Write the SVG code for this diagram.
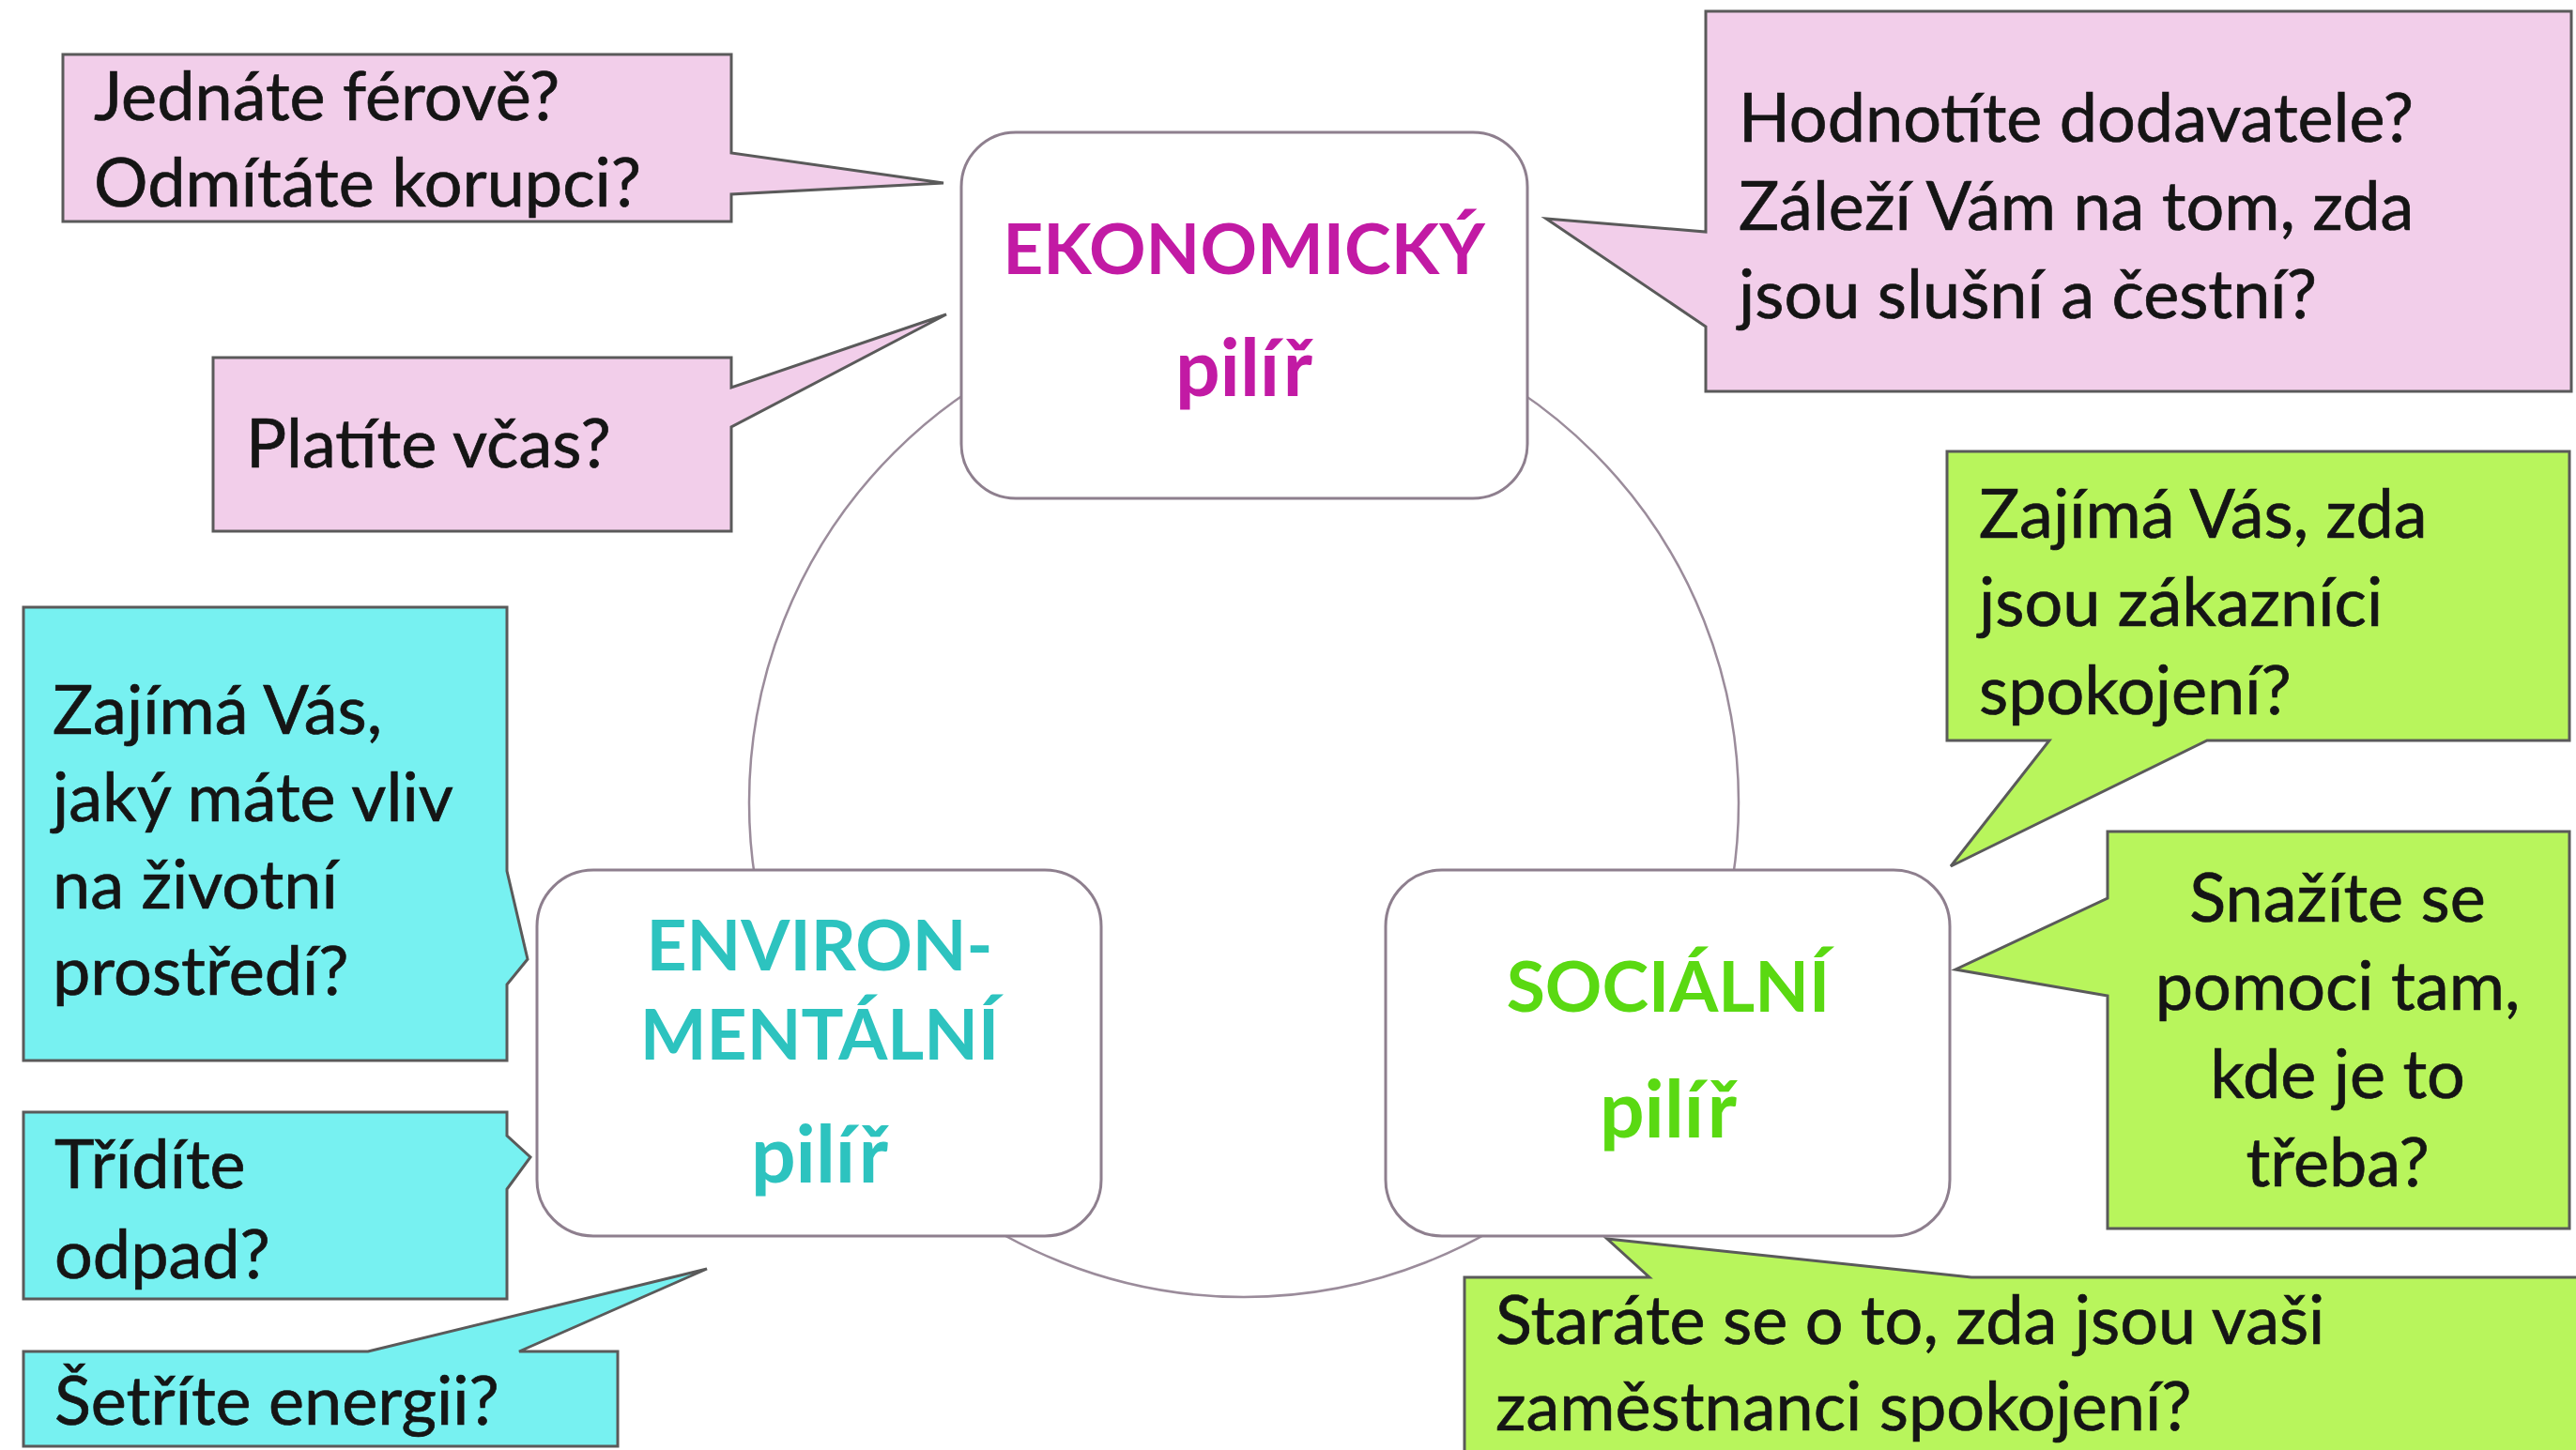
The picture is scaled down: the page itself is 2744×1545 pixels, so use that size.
<svg xmlns="http://www.w3.org/2000/svg" width="2744" height="1545" viewBox="0 0 2744 1545">
<style>
.bg{fill:#ffffff}
.pink{fill:#F2CEEA;stroke:#5a5a5a;stroke-width:3;stroke-linejoin:miter}
.cyan{fill:#77F1F1;stroke:#5a5a5a;stroke-width:3;stroke-linejoin:miter}
.green{fill:#B8F55C;stroke:#5a5a5a;stroke-width:3;stroke-linejoin:miter}
.node{fill:#ffffff;stroke:#8E7F8E;stroke-width:3}
.ring{fill:none;stroke:#9B8C9B;stroke-width:2.5}
.q{font-family:Lato,"Open Sans","Liberation Sans",sans-serif;font-size:72px;fill:#151515;stroke:#151515;stroke-width:0.7}
.qc{text-anchor:middle}
.t{font-family:Lato,"Open Sans","Liberation Sans",sans-serif;font-size:75px;font-weight:bold;text-anchor:middle}
.p{font-size:84px}
.eko{fill:#C21AA4}
.env{fill:#2DC3BF}
.soc{fill:#5AD912}
</style>
<rect class="bg" x="0" y="0" width="2744" height="1545"/>
<g id="connectors">
  <circle class="ring" cx="1325" cy="855" r="527"/>
</g>
<g id="q-ferove">
  <path class="pink" d="M67,58 H779 V163 L1005,195 L779,207 V236 H67 Z"/>
  <text class="q" x="100" y="128">Jednáte férově?</text>
  <text class="q" x="100" y="220">Odmítáte korupci?</text>
</g>
<g id="q-vcas">
  <path class="pink" d="M227,381 H779 V413 L1008,335 L779,455 V566 H227 Z"/>
  <text class="q" x="262" y="498">Platíte včas?</text>
</g>
<g id="q-dodavatele">
  <path class="pink" d="M1817,12 H2739 V417 H1817 V348 L1647,233 L1817,247 Z"/>
  <text class="q" x="1852" y="151">Hodnotíte dodavatele?</text>
  <text class="q" x="1852" y="245">Záleží Vám na tom, zda</text>
  <text class="q" x="1852" y="339">jsou slušní a čestní?</text>
</g>
<g id="q-vliv">
  <path class="cyan" d="M25,647 H540 V928 L562,1022 L540,1049 V1130 H25 Z"/>
  <text class="q" x="56" y="782">Zajímá Vás,</text>
  <text class="q" x="56" y="875">jaký máte vliv</text>
  <text class="q" x="56" y="968">na životní</text>
  <text class="q" x="56" y="1060">prostředí?</text>
</g>
<g id="q-odpad">
  <path class="cyan" d="M25,1185 H540 V1210 L565,1233 L540,1267 V1384 H25 Z"/>
  <text class="q" x="58" y="1266">Třídíte</text>
  <text class="q" x="58" y="1362">odpad?</text>
</g>
<g id="q-energii">
  <path class="cyan" d="M25,1440 H392 L753,1352 L553,1440 H658 V1541 H25 Z"/>
  <text class="q" x="58" y="1518">Šetříte energii?</text>
</g>
<g id="q-zakaznici">
  <path class="green" d="M2074,481 H2737 V789 H2351 L2078,923 L2183,789 H2074 Z"/>
  <text class="q" x="2108" y="573">Zajímá Vás, zda</text>
  <text class="q" x="2108" y="667">jsou zákazníci</text>
  <text class="q" x="2108" y="761">spokojení?</text>
</g>
<g id="q-pomoci">
  <path class="green" d="M2245,886 H2737 V1309 H2245 V1061 L2083,1033 L2245,957 Z"/>
  <text class="q qc" x="2490" y="982">Snažíte se</text>
  <text class="q qc" x="2490" y="1076">pomoci tam,</text>
  <text class="q qc" x="2490" y="1170">kde je to</text>
  <text class="q qc" x="2490" y="1264">třeba?</text>
</g>
<g id="q-zamestnanci">
  <path class="green" d="M1560,1361 H1757 L1712,1320 L2100,1361 H2750 V1560 H1560 Z"/>
  <text class="q" x="1593" y="1432">Staráte se o to, zda jsou vaši</text>
  <text class="q" x="1593" y="1524">zaměstnanci spokojení?</text>
</g>
<g id="node-ekonomicky">
  <rect class="node" x="1024" y="141" width="603" height="390" rx="58"/>
  <text class="t eko" x="1325" y="292">EKONOMICKÝ</text>
  <text class="t p eko" x="1325" y="422">pilíř</text>
</g>
<g id="node-environmentalni">
  <rect class="node" x="572" y="927" width="601" height="390" rx="60"/>
  <text class="t env" x="873" y="1034">ENVIRON-</text>
  <text class="t env" x="873" y="1129">MENTÁLNÍ</text>
  <text class="t p env" x="873" y="1260">pilíř</text>
</g>
<g id="node-socialni">
  <rect class="node" x="1476" y="927" width="601" height="390" rx="60"/>
  <text class="t soc" x="1777" y="1078">SOCIÁLNÍ</text>
  <text class="t p soc" x="1777" y="1212">pilíř</text>
</g>
</svg>
